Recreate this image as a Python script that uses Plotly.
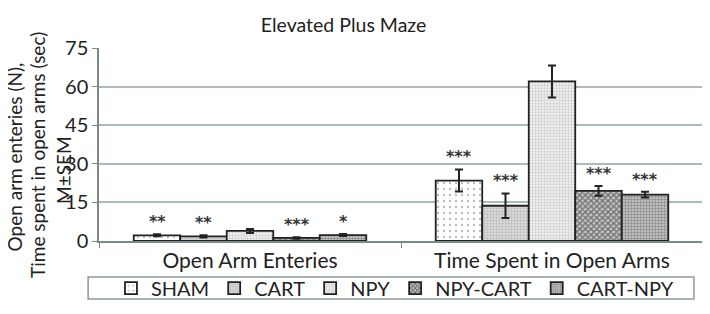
import plotly.graph_objects as go

categories = ["Open Arm Enteries", "Time Spent in Open Arms"]
groups = ["SHAM", "CART", "NPY", "NPY-CART", "CART-NPY"]
values = {
    "SHAM": [2.2, 23.5],
    "CART": [1.8, 13.7],
    "NPY": [3.9, 62.0],
    "NPY-CART": [1.2, 19.5],
    "CART-NPY": [2.3, 18.0],
}
errors = {
    "SHAM": [0.4, 4.3],
    "CART": [0.4, 4.8],
    "NPY": [0.8, 6.2],
    "NPY-CART": [0.3, 1.9],
    "CART-NPY": [0.4, 1.1],
}
stars = {
    "SHAM": ["**", "***"],
    "CART": ["**", "***"],
    "NPY": ["", ""],
    "NPY-CART": ["***", "***"],
    "CART-NPY": ["*", "***"],
}
y_ticks = [0, 15, 30, 45, 60, 75]
y_title_lines = ["Open arm enteries (N),", "Time spent in open arms (sec)", "M±SEM"]

patterns = {
    "SHAM": dict(shape=".", size=6, solidity=0.12, fgcolor="#777777", bgcolor="#ffffff"),
    "CART": dict(shape=".", size=3, solidity=0.35, fgcolor="#9a9a9a", bgcolor="#d8d8d8"),
    "NPY": dict(shape=".", size=3, solidity=0.3, fgcolor="#a8a8a8", bgcolor="#ececec"),
    "NPY-CART": dict(shape="x", size=4, solidity=0.6, fgcolor="#1e1e1e", bgcolor="#c8c8c8"),
    "CART-NPY": dict(shape="+", size=3, solidity=0.4, fgcolor="#5a5a5a", bgcolor="#bdbdbd"),
}

FONT = "Lato, 'Open Sans', sans-serif"
TXT = "#222222"

fig = go.Figure()
for g in groups:
    fig.add_trace(go.Bar(
        name=g, x=categories, y=values[g],
        marker=dict(pattern=patterns[g], color=patterns[g]["bgcolor"],
                    line=dict(color="#222222", width=1.8)),
        error_y=dict(type="data", array=errors[g], color="#222222", thickness=2, width=4),
    ))

# significance stars, placed just above each error bar
ng = len(groups)
for gi, g in enumerate(groups):
    for ci, c in enumerate(categories):
        if stars[g][ci]:
            fig.add_annotation(
                x=c, y=values[g][ci] + errors[g][ci], xref="x", yref="y",
                text=stars[g][ci], showarrow=False, yanchor="bottom",
                yshift=1, xshift=(gi - (ng - 1) / 2) * 46.5,
                font=dict(family="DejaVu Sans", size=16, color="#333333", weight="bold"),
            )

# y-axis title, one rotated annotation per line
title_x = [-0.14, -0.101, -0.058]
title_y = [0.435, 0.446, 0.368]
for line, tx, ty in zip(y_title_lines, title_x, title_y):
    fig.add_annotation(
        xref="paper", yref="paper", x=tx, y=ty, xanchor="center", yanchor="middle",
        text=line, textangle=-90, showarrow=False,
        font=dict(family=FONT, size=19, color=TXT),
    )

# legend frame
fig.add_shape(type="rect", xref="paper", yref="paper", x0=-0.018, x1=0.985,
              y0=-0.187, y1=-0.30, line=dict(color="#8a9a9a", width=1.5),
              fillcolor="rgba(0,0,0,0)", layer="above")

fig.update_layout(
    width=702, height=306,
    margin=dict(l=91, r=7, t=40, b=73, autoexpand=False),
    paper_bgcolor="white", plot_bgcolor="white",
    barmode="group", bargap=0.23, bargroupgap=0,
    font=dict(family=FONT, size=18, color=TXT),
    title=dict(text="Elevated Plus Maze", x=0.478, xref="container", xanchor="center",
               y=0.944, yref="container", yanchor="middle",
               font=dict(family=FONT, size=19.5, color=TXT)),
    showlegend=True,
    legend=dict(orientation="h", x=0.49, xanchor="center", y=-0.244, yanchor="middle",
                borderwidth=0, bgcolor="rgba(0,0,0,0)",
                font=dict(family=FONT, size=20, color=TXT),
                itemwidth=30, tracegroupgap=0, itemclick=False),
    xaxis=dict(type="category", tickson="boundaries", ticks="outside", ticklen=5,
               tickcolor="#7a8a8a", showline=True, linecolor="#7a8a8a", linewidth=1.5,
               showgrid=False, tickfont=dict(family=FONT, size=21, color=TXT)),
    yaxis=dict(range=[0, 75], tickvals=y_ticks, ticks="outside", ticklen=5,
               tickcolor="#7a8a8a", showline=True, linecolor="#7a8a8a", linewidth=1.5,
               mirror=True, showgrid=True, gridcolor="#a9bcbc", gridwidth=1.5,
               zeroline=False, tickfont=dict(family=FONT, size=20, color=TXT)),
)

fig.write_html("out.html")
